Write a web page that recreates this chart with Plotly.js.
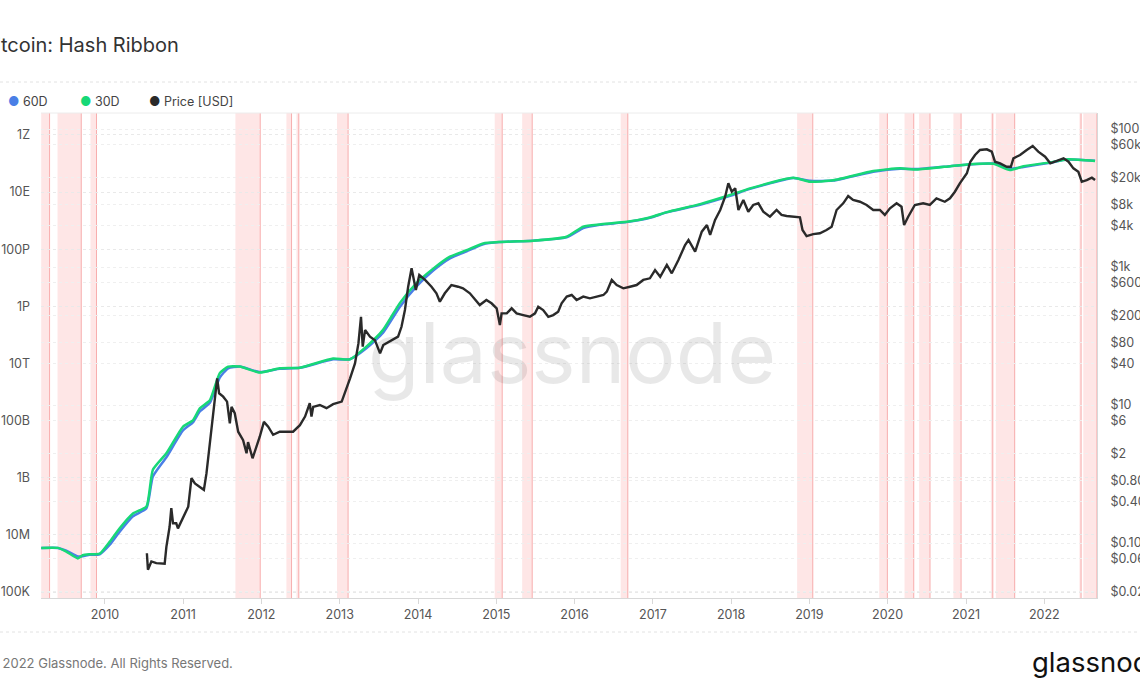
<!DOCTYPE html>
<html>
<head>
<meta charset="utf-8">
<script src="https://cdn.plot.ly/plotly-3.0.1.min.js"></script>
<style>
  body { margin: 0; background: #fff; }
  #plot { width: 1140px; height: 694px; }
</style>
</head>
<body>
<div id="plot"></div>
<script>
// hash rate, 30 and 60 day moving averages (H/s)
var hashDates = ['2009-03-10','2009-05-27','2009-07-05','2009-08-28','2009-09-20','2009-10-22','2009-12-08',
  '2010-01-24','2010-03-11','2010-05-12','2010-07-14','2010-08-13','2010-10-15','2011-01-01','2011-02-17',
  '2011-03-20','2011-05-06','2011-06-21','2011-07-30','2011-09-23','2011-12-25','2012-03-27','2012-06-29',
  '2012-12-01','2013-02-17','2013-05-05','2013-07-22','2013-10-08','2013-12-25','2014-03-13','2014-05-30',
  '2014-08-16','2014-11-01','2015-01-18','2015-06-23','2015-11-25','2016-02-11','2016-04-28','2016-09-01',
  '2016-12-18','2017-03-07','2017-08-09','2017-12-27','2018-03-30','2018-10-18','2019-01-04','2019-04-22',
  '2019-10-26','2020-02-28','2020-05-16','2020-10-19','2021-01-05','2021-05-09','2021-07-25','2021-09-26',
  '2022-01-28','2022-04-16','2022-08-26'];

var hash30 = [3.5e6,3.5e6,2.6e6,1.5e6,1.95e6,2.1e6,2.2e6,
  5.8e6,1.7e7,5.6e7,9.8e7,1.9e9,7.2e9,6.2e10,1.05e11,
  2.7e11,5.2e11,4.6e12,7.8e12,7.8e12,4.8e12,6.8e12,7.1e12,
  1.5e13,1.4e13,3.9e13,1.5e14,1.3e15,6.5e15,2.1e16,5.5e16,
  9.3e16,1.6e17,1.8e17,2.0e17,2.75e17,6.2e17,7.4e17,9.1e17,
  1.3e18,2.0e18,3.8e18,7.9e18,1.35e19,3.2e19,2.3e19,2.6e19,
  5.5e19,6.8e19,6.2e19,8.1e19,9.3e19,9.8e19,5.9e19,8.1e19,
  1.1e20,1.4e20,1.23e20];

var hash60 = [3.5e6,3.5e6,2.8e6,1.75e6,1.8e6,2.0e6,2.1e6,
  4.5e6,1.3e7,4.5e7,8.5e7,1.1e9,5.2e9,4.6e10,8.9e10,
  2.1e11,4.2e11,3.2e12,6.8e12,7.9e12,5.0e12,6.5e12,7.1e12,
  1.4e13,1.4e13,3.4e13,1.2e14,9.5e14,5.0e15,1.8e16,4.8e16,
  8.5e16,1.5e17,1.78e17,2.0e17,2.6e17,5.5e17,7.2e17,8.9e17,
  1.26e18,1.95e18,3.6e18,7.4e18,1.3e19,3.1e19,2.5e19,2.55e19,
  5.2e19,6.6e19,6.4e19,8.1e19,9.1e19,1.0e20,6.6e19,7.6e19,
  1.07e20,1.38e20,1.26e20];

// BTC price (USD)
var priceDates = [
  '2010-07-16','2010-07-21','2010-08-06','2010-08-29','2010-10-07','2010-10-15','2010-10-30','2010-11-07',
  '2010-11-15','2010-11-30','2010-12-08','2011-01-01','2011-01-25','2011-02-09','2011-02-25','2011-03-20',
  '2011-04-08','2011-04-20','2011-05-06','2011-05-18','2011-05-29','2011-06-09','2011-06-18','2011-07-07',
  '2011-07-25','2011-08-07','2011-08-15','2011-08-30','2011-09-15','2011-10-08','2011-10-24','2011-10-31',
  '2011-11-21','2011-12-10','2011-12-25','2012-01-13','2012-02-02','2012-02-25','2012-03-27','2012-05-05',
  '2012-05-28','2012-06-29','2012-07-23','2012-08-14','2012-08-22','2012-08-30','2012-09-30','2012-10-31',
  '2012-12-01','2013-01-10','2013-01-25','2013-02-18','2013-03-13','2013-03-29','2013-04-10','2013-04-18',
  '2013-04-29','2013-05-22','2013-06-14','2013-07-08','2013-07-23','2013-08-23','2013-09-30','2013-10-16',
  '2013-11-01','2013-11-16','2013-12-02','2013-12-22','2014-01-07','2014-02-03','2014-03-05','2014-03-28',
  '2014-04-13','2014-05-06','2014-06-06','2014-07-07','2014-07-30','2014-08-31','2014-10-01','2014-10-16',
  '2014-11-16','2014-12-10','2015-01-03','2015-01-18','2015-01-26','2015-02-19','2015-03-14','2015-04-06',
  '2015-05-07','2015-06-07','2015-07-01','2015-07-16','2015-08-08','2015-09-01','2015-09-24','2015-10-17',
  '2015-11-02','2015-11-26','2015-12-19','2016-01-11','2016-02-11','2016-03-13','2016-04-14','2016-05-15',
  '2016-05-31','2016-06-23','2016-07-16','2016-08-16','2016-09-16','2016-10-17','2016-11-17','2016-12-18',
  '2017-01-11','2017-02-04','2017-03-07','2017-03-30','2017-04-30','2017-05-31','2017-06-16','2017-07-17',
  '2017-08-17','2017-09-10','2017-09-25','2017-10-18','2017-11-11','2017-12-04','2017-12-19','2018-01-04',
  '2018-01-20','2018-02-04','2018-02-27','2018-03-22','2018-04-14','2018-05-08','2018-05-31','2018-07-01',
  '2018-08-01','2018-08-24','2018-09-17','2018-10-26','2018-11-18','2018-11-30','2018-12-19','2019-01-19',
  '2019-02-19','2019-03-22','2019-04-15','2019-05-08','2019-06-08','2019-07-01','2019-07-24','2019-08-25',
  '2019-09-25','2019-10-26','2019-11-26','2019-12-19','2020-01-12','2020-02-12','2020-03-06','2020-03-18',
  '2020-04-06','2020-05-07','2020-06-15','2020-07-16','2020-08-16','2020-09-24','2020-10-18','2020-11-10',
  '2020-12-03','2021-01-05','2021-01-21','2021-02-12','2021-03-07','2021-04-08','2021-05-01','2021-05-16',
  '2021-06-09','2021-07-10','2021-07-29','2021-08-10','2021-09-10','2021-10-11','2021-11-08','2021-12-04',
  '2022-01-05','2022-01-29','2022-02-28','2022-04-01','2022-04-24','2022-05-17','2022-06-09','2022-06-25',
  '2022-07-18','2022-08-11','2022-08-26'];

var price = [
  0.071,0.041,0.054,0.051,0.050,0.088,0.172,0.32,
  0.193,0.193,0.163,0.24,0.336,0.87,0.73,0.65,
  0.59,1.02,2.9,6.1,11.8,24.4,14.8,13.2,
  11.2,5.4,9.4,7.6,4.1,3.1,2.0,2.9,
  1.69,2.49,3.5,5.7,4.85,3.7,4.1,4.1,
  4.1,5.1,6.8,10.6,6.8,9.4,10,9.0,
  10.3,11.2,14.8,24.4,40,78,190,70,
  122,98,87,56,74,83,98,136,
  238,518,957,464,766,649,518,416,
  314,416,548,518,491,416,314,281,
  333,298,252,144,213,213,252,213,
  201,190,213,266,238,190,201,225,
  298,372,393,333,372,352,372,393,
  439,649,548,491,518,548,649,686,
  905,723,1069,811,1262,2085,2460,1667,
  3250,4060,2911,4800,6700,10450,16330,12330,
  13840,6700,9350,6330,7930,8380,6330,5360,
  6700,5680,5480,5360,5250,3440,2810,3000,
  3080,3440,3840,6700,8380,10700,9350,8830,
  7930,6700,6700,5680,7100,8380,7480,4060,
  5360,7930,8380,7930,9900,8830,9900,12330,
  16330,22800,33600,42000,49700,50800,46900,33600,
  31800,28400,28400,37600,42000,49700,56700,46900,
  39700,31800,34800,37600,33600,26900,24000,17200,
  18200,19700,18200];

// miner capitulation periods (30D below 60D)
var bandStart = ['2009-03-10','2009-05-25','2009-10-26','2011-09-02','2012-04-27','2012-06-13','2012-12-19',
  '2014-12-25','2015-05-02','2016-08-04','2018-11-05','2019-11-23','2020-03-20','2020-05-27','2020-11-03',
  '2021-04-27','2021-05-20','2022-06-14','2022-07-02'];
var bandEnd = ['2009-04-18','2009-09-13','2009-11-23','2011-12-27','2012-05-21','2012-06-24','2013-02-09',
  '2015-01-29','2015-06-18','2016-09-06','2019-01-17','2019-12-31','2020-05-02','2020-07-17','2020-12-09',
  '2021-05-06','2021-08-16','2022-06-22','2022-09-04'];

var leftTicks = [1e5,1e7,1e9,1e11,1e13,1e15,1e17,1e19,1e21];
var leftLabels = ['100K','10M','1B','100B','10T','1P','100P','10E','1Z'];
var rightTicks = [1e5,6e4,2e4,8e3,4e3,1e3,600,200,80,40,10,6,2,0.8,0.4,0.1,0.06,0.02];
var rightLabels = ['$100k','$60k','$20k','$8k','$4k','$1k','$600','$200','$80','$40','$10','$6','$2',
  '$0.80','$0.40','$0.10','$0.06','$0.02'];

var BLUE = '#4a7fe6', GREEN = '#17d877', BLACK = '#2a2a2a';

var traces = [
  {x: hashDates, y: hash60, type: 'scatter', mode: 'lines', name: '60D',
   line: {color: BLUE, width: 2.5, shape: 'spline', smoothing: 0.5}, yaxis: 'y'},
  {x: hashDates, y: hash30, type: 'scatter', mode: 'lines', name: '30D',
   line: {color: GREEN, width: 2.5, shape: 'spline', smoothing: 0.5}, yaxis: 'y'},
  {x: priceDates, y: price, type: 'scatter', mode: 'lines', name: 'Price [USD]',
   line: {color: BLACK, width: 2.4}, yaxis: 'y2'}
];

// plot area in pixels: left 41, top 113, width 1056, height 485
var L = 41, T = 113, W = 1056, H = 485;
function px(x) { return (x - L) / W; }
function py(y) { return (T + H - y) / H; }

var shapes = [];
for (var i = 0; i < bandStart.length; i++) {
  shapes.push({type: 'rect', xref: 'x', yref: 'paper', x0: bandStart[i], x1: bandEnd[i], y0: 0, y1: 1,
    fillcolor: 'rgba(245,60,60,0.13)', line: {width: 0}, layer: 'below'});
  shapes.push({type: 'line', xref: 'x', yref: 'paper', x0: bandEnd[i], x1: bandEnd[i], y0: 0, y1: 1,
    line: {color: 'rgba(240,90,90,0.45)', width: 1}, layer: 'below'});
}
// separators
shapes.push({type: 'line', xref: 'paper', yref: 'paper', x0: px(0), x1: px(1140), y0: py(82), y1: py(82),
  line: {color: '#e2e2e2', width: 1, dash: 'dot'}});
shapes.push({type: 'line', xref: 'paper', yref: 'paper', x0: px(0), x1: px(1140), y0: py(632), y1: py(632),
  line: {color: '#e2e2e2', width: 1, dash: 'dot'}});
shapes.push({type: 'line', xref: 'paper', yref: 'paper', x0: 0, x1: 1, y0: 1, y1: 1,
  line: {color: '#ececec', width: 1}});

var annotations = [
  {text: 'Bitcoin: Hash Ribbon', xref: 'paper', yref: 'paper', x: px(-19), y: py(45),
   xanchor: 'left', yanchor: 'middle', showarrow: false, font: {size: 20, color: '#333'}},
  {text: '<span style="color:' + BLUE + '">●</span> 60D', xref: 'paper', yref: 'paper', x: px(6), y: py(101),
   xanchor: 'left', yanchor: 'middle', showarrow: false, font: {size: 12.5, color: '#444'}},
  {text: '<span style="color:' + GREEN + '">●</span> 30D', xref: 'paper', yref: 'paper', x: px(78), y: py(101),
   xanchor: 'left', yanchor: 'middle', showarrow: false, font: {size: 12.5, color: '#444'}},
  {text: '<span style="color:' + BLACK + '">●</span> Price [USD]', xref: 'paper', yref: 'paper', x: px(147), y: py(101),
   xanchor: 'left', yanchor: 'middle', showarrow: false, font: {size: 12.5, color: '#444'}},
  {text: 'glassnode', xref: 'paper', yref: 'paper', x: px(572), y: py(352),
   xanchor: 'center', yanchor: 'middle', showarrow: false, font: {size: 84, color: 'rgba(0,0,0,0.09)'}},
  {text: '© 2022 Glassnode. All Rights Reserved.', xref: 'paper', yref: 'paper', x: px(-15), y: py(663),
   xanchor: 'left', yanchor: 'middle', showarrow: false, font: {size: 13, color: '#777'}},
  {text: 'glassnode', xref: 'paper', yref: 'paper', x: px(1030), y: py(662),
   xanchor: 'left', yanchor: 'middle', showarrow: false, font: {size: 27.5, color: '#111'}}
];

var layout = {
  width: 1140, height: 694,
  margin: {l: L, r: 1140 - L - W, t: T, b: 694 - T - H},
  paper_bgcolor: '#fff', plot_bgcolor: '#fff',
  font: {family: 'Inter, "Open Sans", sans-serif', color: '#555', size: 12.5},
  showlegend: false,
  xaxis: {
    type: 'date', range: ['2009-03-09', '2022-09-04'],
    tick0: '2010-01-01', dtick: 'M12', tickformat: '%Y',
    showgrid: false, zeroline: false,
    showline: true, linecolor: '#d8d8d8', linewidth: 1,
    ticks: 'outside', ticklen: 5, tickcolor: '#d8d8d8',
    tickfont: {size: 12.5, color: '#555'}
  },
  yaxis: {
    type: 'log', range: [4.79, 21.77],
    tickvals: leftTicks, ticktext: leftLabels,
    showgrid: true, gridcolor: '#e9e9e9', griddash: 'dot',
    zeroline: false, showline: false, ticks: '', ticklabelstandoff: 10,
    tickfont: {size: 12.5, color: '#555'}
  },
  yaxis2: {
    type: 'log', range: [-1.797, 5.232], overlaying: 'y', side: 'right',
    tickvals: rightTicks, ticktext: rightLabels,
    showgrid: true, gridcolor: '#efefef', griddash: 'dot',
    zeroline: false, showline: true, linecolor: '#d8d8d8', ticks: '', ticklabelstandoff: 10,
    tickfont: {size: 12.5, color: '#555'}
  },
  shapes: shapes,
  annotations: annotations
};

Plotly.newPlot('plot', traces, layout, {displayModeBar: false, staticPlot: true});
</script>
</body>
</html>
